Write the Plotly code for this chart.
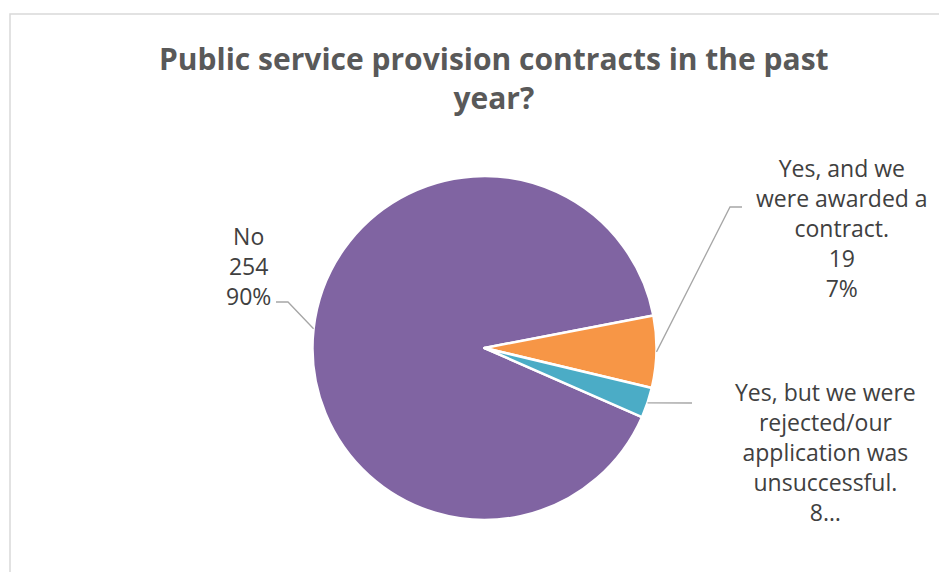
import math
import plotly.graph_objects as go

# ---- data ----
categories = ["No",
              "Yes, and we were awarded a contract.",
              "Yes, but we were rejected/our application was unsuccessful."]
values = [254, 19, 8]
colors = ["#8064A2", "#F79646", "#4BACC6"]
label_texts = ["No",
               "Yes, and we<br>were awarded a<br>contract.",
               "Yes, but we were<br>rejected/our<br>application was<br>unsuccessful."]
title_text = "Public service provision contracts in the past<br>year?"

# ---- layout constants (pixels, in window coordinates) ----
OFF = 8  # page body margin
W, H = 947 - OFF, 572 - OFF
CX, CY, R = 484.5, 348.0, 172.0
ROTATION = 113.7

def px(x):
    return (x - OFF) / W

def py(y):
    return 1 - (y - OFF) / H

total = sum(values)
pcts = [round(v / total * 100) for v in values]

fig = go.Figure()
fig.add_trace(go.Pie(
    labels=categories, values=values, sort=False, direction="clockwise",
    rotation=ROTATION, textinfo="none", hoverinfo="label+value+percent",
    marker=dict(colors=colors, line=dict(color="#FFFFFF", width=2.5)),
    domain=dict(x=[px(CX - R), px(CX + R)], y=[py(CY + R), py(CY - R)]),
    showlegend=False,
))

# label positions (pixels) and leader elbows
label_pos = [(248, 266), (842, 228), (825, 452)]
elbows = [[(276, 302), (288, 302)], [(730, 207), (742, 207)], [(692, 403)]]
full_texts = [
    f"{label_texts[0]}<br>{values[0]}<br>{pcts[0]}%",
    f"{label_texts[1]}<br>{values[1]}<br>{pcts[1]}%",
    f"{label_texts[2]}<br>{values[2]}…",
]

shapes = []
annotations = []
start = ROTATION
for i, v in enumerate(values):
    span = v / total * 360
    mid = math.radians(start + span / 2)
    start += span
    ax = CX + R * math.sin(mid)
    ay = CY - R * math.cos(mid)
    if i == 0:
        pts = [elbows[0][0], elbows[0][1], (ax, ay)]
    elif i == 1:
        pts = [(ax, ay), elbows[1][0], elbows[1][1]]
    else:
        pts = [(ax, ay)] + elbows[i]
    path = "M " + " L ".join(f"{px(x)},{py(y)}" for x, y in pts)
    shapes.append(dict(type="path", xref="paper", yref="paper", path=path,
                       line=dict(color="#A6A6A6", width=1.3)))
    annotations.append(dict(
        x=px(label_pos[i][0]), y=py(label_pos[i][1]), xref="paper", yref="paper",
        text=full_texts[i], showarrow=False, xanchor="center", yanchor="middle",
        align="center", font=dict(family="Open Sans", size=23, color="#404040")))

annotations.append(dict(
    x=px(494), y=py(78), xref="paper", yref="paper", text=f"<b>{title_text}</b>",
    showarrow=False, xanchor="center", yanchor="middle", align="center",
    font=dict(family="Open Sans", size=30, color="#595959")))

# chart border
shapes.append(dict(type="rect", xref="paper", yref="paper",
                   x0=px(10), x1=px(947 + 20), y0=py(572 + 20), y1=py(14),
                   line=dict(color="#D9D9D9", width=1.5), fillcolor="rgba(0,0,0,0)"))

fig.update_layout(
    width=W, height=H, margin=dict(l=0, r=0, t=0, b=0),
    paper_bgcolor="#FFFFFF", plot_bgcolor="#FFFFFF",
    shapes=shapes, annotations=annotations,
)
fig.write_html("out.html")
